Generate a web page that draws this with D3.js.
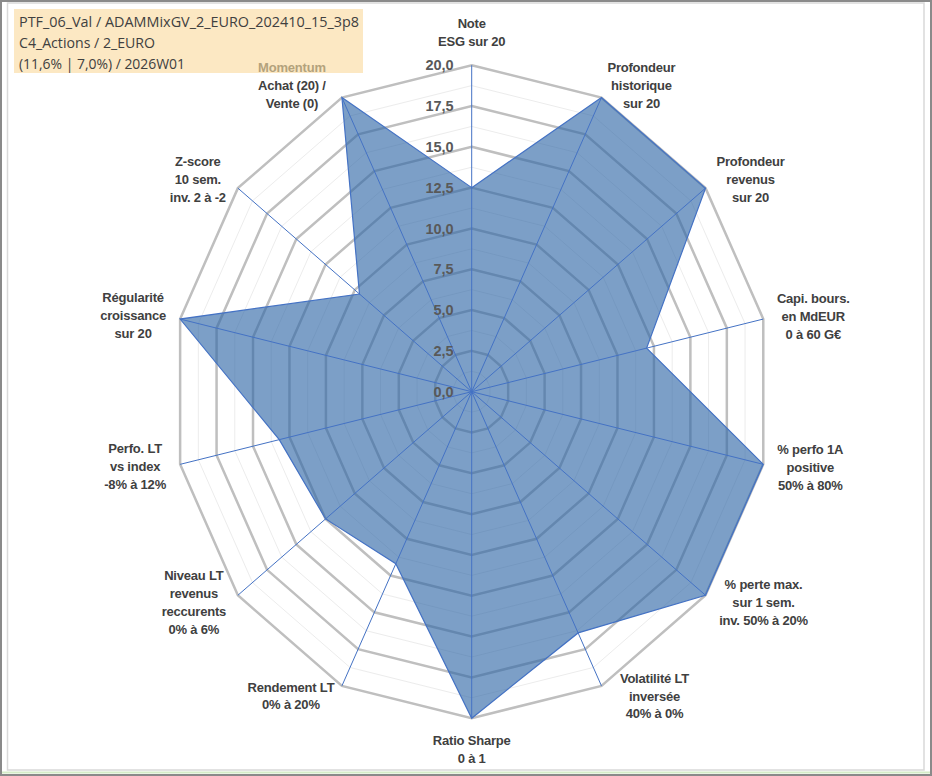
<!DOCTYPE html>
<html>
<head>
<meta charset="utf-8">
<script src="https://cdn.jsdelivr.net/npm/d3@7"></script>
<style>
	html, body { margin: 0; padding: 0; background: #fff; }
	svg { display: block; }
</style>
</head>
<body>
<svg id="chart" width="932" height="776"></svg>
<script>
'use strict'

// axis labels, clockwise from the top
var categories = [
	['Note', 'ESG sur 20'],
	['Profondeur', 'historique', 'sur 20'],
	['Profondeur', 'revenus', 'sur 20'],
	['Capi. bours.', 'en MdEUR', '0 à 60 G€'],
	['% perfo 1A', 'positive', '50% à 80%'],
	['% perte max.', 'sur 1 sem.', 'inv. 50% à 20%'],
	['Volatilité LT', 'inversée', '40% à 0%'],
	['Ratio Sharpe', '0 à 1'],
	['Rendement LT', '0% à 20%'],
	['Niveau LT', 'revenus', 'reccurents', '0% à 6%'],
	['Perfo. LT', 'vs index', '-8% à 12%'],
	['Régularité', 'croissance', 'sur 20'],
	['Z-score', '10 sem.', 'inv. 2 à -2'],
	['Momentum', 'Achat (20) /', 'Vente (0)']
];

var values = [12.5, 20, 20, 12, 20, 20, 16.4, 20, 11.7, 12.5, 13.2, 20, 9.6, 20];

var ticks = [0, 2.5, 5, 7.5, 10, 12.5, 15, 17.5, 20];

var titleLines = [
	'PTF_06_Val / ADAMMixGV_2_EURO_202410_15_3p8',
	'C4_Actions / 2_EURO',
	'(11,6% | 7,0%) / 2026W01'
];

// label block offsets from the outer vertex (layout only)
var labelOffsets = [
	[0, -33], [40, -12], [45, -9], [50, -3], [47, 3], [58, 7], [53, 10],
	[0, 31], [-51, 10], [-44, 7], [-45, 2], [-47, -4], [-40, -9], [-50, -12]
];

function init(){
	var svg = d3.select('#chart');
	var cx = 471.7, cy = 391.7;
	var sx = 0.916; // the picture is a bit narrower than tall

	var r = d3.scaleLinear().domain([0, 20]).range([0, 326.5]);
	var angle = d3.scaleLinear().domain([0, categories.length]).range([0, 2 * Math.PI]);

	function pt(i, v){
		var a = angle(i);
		return [cx + Math.sin(a) * r(v) * sx, cy - Math.cos(a) * r(v)];
	}

	// frame
	svg.append('rect').attr('x', 1).attr('y', 1).attr('width', 930).attr('height', 774)
		.attr('fill', '#fff').attr('stroke', '#8a8a8a').attr('stroke-width', 2);
	svg.append('line').attr('x1', 2).attr('x2', 930).attr('y1', 772.5).attr('y2', 772.5)
		.attr('stroke', '#d5ecc8').attr('stroke-width', 2);
	svg.append('rect').attr('x', 7.5).attr('y', 3).attr('width', 916.5).attr('height', 767)
		.attr('fill', 'none').attr('stroke', '#d9d9d9').attr('stroke-width', 1.5);

	// title box (behind everything else)
	svg.append('rect').attr('x', 14).attr('y', 9).attr('width', 349).attr('height', 64)
		.attr('fill', '#fce8c3');
	var widths = [340, 136, 166];
	svg.append('g').selectAll('text').data(titleLines).join('text')
		.attr('x', 19)
		.attr('y', function(d, i){ return 22 + i * 20.7; })
		.attr('dy', '0.36em')
		.attr('font-family', 'Open Sans, Noto Sans, sans-serif')
		.attr('font-size', 14.5)
		.attr('fill', '#404040')
		.attr('textLength', function(d, i){ return widths[i]; })
		.attr('lengthAdjust', 'spacingAndGlyphs')
		.text(function(d){ return d; });

	var idx = d3.range(categories.length);
	var ring = d3.line();

	// minor rings
	var minor = d3.range(1.25, 20, 2.5);
	svg.append('g').selectAll('path').data(minor).join('path')
		.attr('d', function(v){ return ring(idx.map(function(i){ return pt(i, v); })) + 'Z'; })
		.attr('fill', 'none').attr('stroke', '#ececec').attr('stroke-width', 1);

	// major rings
	svg.append('g').selectAll('path').data(ticks.slice(1)).join('path')
		.attr('d', function(v){ return ring(idx.map(function(i){ return pt(i, v); })) + 'Z'; })
		.attr('fill', 'none').attr('stroke', '#bfbfbf').attr('stroke-width', 2.5);

	// series fill
	var shape = ring(values.map(function(v, i){ return pt(i, v); })) + 'Z';
	svg.append('path').attr('d', shape)
		.attr('fill', '#2f67a6').attr('fill-opacity', 0.63);

	// spokes
	svg.append('g').selectAll('line').data(idx).join('line')
		.attr('x1', cx).attr('y1', cy)
		.attr('x2', function(i){ return pt(i, 20)[0]; })
		.attr('y2', function(i){ return pt(i, 20)[1]; })
		.attr('stroke', '#4472c4').attr('stroke-width', 1);

	svg.append('path').attr('d', shape)
		.attr('fill', 'none').attr('stroke', '#4472c4').attr('stroke-width', 1.2);

	// value ticks
	var fmt = d3.format('.1f');
	svg.append('g').selectAll('text').data(ticks).join('text')
		.attr('x', cx - 18)
		.attr('y', function(v){ return cy - r(v); })
		.attr('dy', '0.36em')
		.attr('text-anchor', 'end')
		.attr('font-family', 'Liberation Sans, Arial, sans-serif')
		.attr('font-weight', 'bold')
		.attr('font-size', 14.5)
		.attr('fill', '#595959')
		.text(function(v){ return fmt(v).replace('.', ','); });

	// axis labels
	var lh = 17.8;
	var lab = svg.append('g')
		.attr('font-family', 'Liberation Sans, Arial, sans-serif')
		.attr('font-weight', 'bold')
		.attr('font-size', 13)
		.attr('letter-spacing', '-0.2px')
		.attr('text-anchor', 'middle');

	categories.forEach(function(lines, i){
		var p = pt(i, 20);
		var x = p[0] + labelOffsets[i][0];
		var y0 = p[1] + labelOffsets[i][1] - (lines.length - 1) / 2 * lh;
		lines.forEach(function(s, k){
			lab.append('text')
				.attr('x', x)
				.attr('y', y0 + k * lh)
				.attr('dy', '0.36em')
				.attr('fill', (i === 13 && k === 0) ? '#b3a27c' : '#404040')
				.text(s);
		});
	});
}

init();
</script>
</body>
</html>
